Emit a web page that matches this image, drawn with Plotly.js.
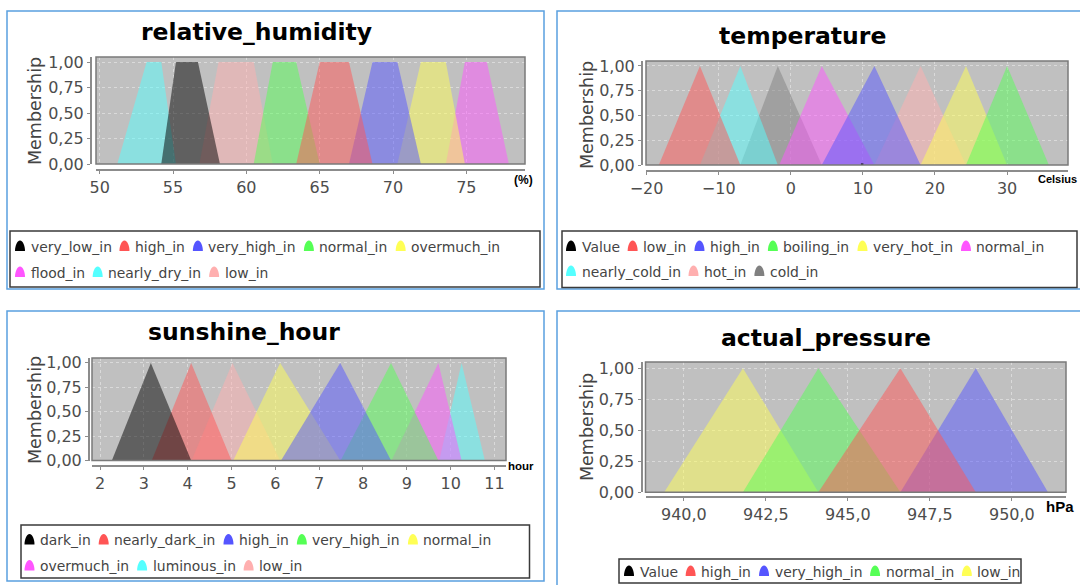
<!DOCTYPE html>
<html><head><meta charset="utf-8">
<script src="https://cdn.plot.ly/plotly-3.0.1.min.js"></script>
<style>html,body{margin:0;padding:0;background:#fff}#chart{width:1080px;height:585px}</style>
</head><body><div id="chart"></div>
<script>
// ---------------- data ----------------
// relative_humidity (trapezoids: start, top-left, top-right, end)
const humNames  = ['very_low_in','high_in','very_high_in','normal_in','overmuch_in','flood_in','nearly_dry_in','low_in'];
const humColors = ['#000000','#FF5555','#5555FF','#55FF55','#FFFF55','#FF55FF','#55FFFF','#FFAFAF'];
const humStart  = [54.2, 63.4, 67.0, 60.5, 70.3, 73.6, 51.2, 56.8];
const humTopL   = [55.2, 65.0, 68.6, 61.8, 71.9, 74.9, 53.2, 58.1];
const humTopR   = [56.7, 67.0, 70.3, 63.4, 73.6, 76.4, 54.2, 60.5];
const humEnd    = [58.2, 68.6, 71.9, 65.0, 74.9, 77.9, 55.2, 61.8];

// temperature (triangles: start, peak, end); index 0 = Value
const tempNames  = ['Value','low_in','high_in','boiling_in','very_hot_in','normal_in','nearly_cold_in','hot_in','cold_in'];
const tempColors = ['#000000','#FF5555','#5555FF','#55FF55','#FFFF55','#FF55FF','#55FFFF','#FFAFAF','#808080'];
const tempStart  = [null, -18.3,  4.3, 24.3, 18.0, -1.6, -12.6, 11.6, -7.0];
const tempPeak   = [null, -12.6, 11.6, 30.0, 24.3,  4.3,  -7.0, 18.0, -1.8];
const tempEnd    = [null,  -7.0, 18.0, 35.8, 30.0, 11.6,  -1.8, 24.3,  4.3];
const tempValue  = 9.9;

// sunshine_hour (triangles)
const sunNames  = ['dark_in','nearly_dark_in','high_in','very_high_in','normal_in','overmuch_in','luminous_in','low_in'];
const sunColors = ['#000000','#FF5555','#5555FF','#55FF55','#FFFF55','#FF55FF','#55FFFF','#FFAFAF'];
const sunStart  = [2.27, 3.18, 6.13, 7.49, 5.04,  8.65,  9.74, 4.09];
const sunPeak   = [3.16, 4.08, 7.48, 8.64, 6.11,  9.72, 10.25, 5.02];
const sunEnd    = [4.08, 5.00, 8.64, 9.72, 7.48, 10.25, 10.78, 6.11];

// actual_pressure (triangles); index 0 = Value
const presNames  = ['Value','high_in','very_high_in','normal_in','low_in'];
const presColors = ['#000000','#FF5555','#5555FF','#55FF55','#FFFF55'];
const presStart  = [null, 944.1, 946.6, 941.8, 939.4];
const presPeak   = [null, 946.6, 948.9, 944.1, 941.8];
const presEnd    = [null, 948.9, 951.1, 946.6, 944.1];

const membershipTicks = [0, 0.25, 0.5, 0.75, 1];

// ---------------- helpers ----------------
const W = 1080, H = 585;
const X = px => px / W;
const Y = py => 1 - py / H;
function rgba(hex, a) {
  const n = parseInt(hex.slice(1), 16);
  return `rgba(${(n>>16)&255},${(n>>8)&255},${n&255},${a})`;
}
const TXT = '"DejaVu Sans", Verdana, sans-serif';
const BOLD = '"Liberation Sans", Arial, sans-serif';
const traces = [], shapes = [], annotations = [];

function fillTrace(xs, ys, color, ax) {
  return {type:'scatter', mode:'lines', x:xs, y:ys, fill:'toself',
    fillcolor: rgba(color, 0.5), line:{width:0, color: rgba(color,0.5)},
    hoverinfo:'skip', showlegend:false,
    xaxis: ax === 1 ? 'x' : 'x'+ax, yaxis: ax === 1 ? 'y' : 'y'+ax};
}

// first series is drawn on top -> add in reverse order
for (let i = humNames.length - 1; i >= 0; i--)
  traces.push(fillTrace([humStart[i], humTopL[i], humTopR[i], humEnd[i]], [0,1,1,0], humColors[i], 1));
for (let i = tempNames.length - 1; i >= 1; i--)
  traces.push(fillTrace([tempStart[i], tempPeak[i], tempEnd[i]], [0,1,0], tempColors[i], 2));
traces.push({type:'scatter', mode:'lines', x:[tempValue, tempValue], y:[0, 0.015],
  line:{color:'#000', width:2.5}, hoverinfo:'skip', showlegend:false, xaxis:'x2', yaxis:'y2'});
for (let i = sunNames.length - 1; i >= 0; i--)
  traces.push(fillTrace([sunStart[i], sunPeak[i], sunEnd[i]], [0,1,0], sunColors[i], 3));
for (let i = presNames.length - 1; i >= 1; i--)
  traces.push(fillTrace([presStart[i], presPeak[i], presEnd[i]], [0,1,0], presColors[i], 4));

// ---------------- layout ----------------
const layout = {
  width: W, height: H, margin:{l:0,r:0,t:0,b:0},
  paper_bgcolor:'#ffffff', plot_bgcolor:'#c0c0c0',
  showlegend:false, separators:',.',
  font:{family:TXT, color:'#444'},
  shapes, annotations
};

const plots = [
  {l:96,  r:525,  t:57,  b:164,   xr:[49.75, 79.0],  xline:170, yline:91,  dtick:5,   tick0:50,  fmt:''},
  {l:646, r:1068, t:61,  b:165,   xr:[-20.08, 38.45], xline:171, yline:642, dtick:10,  tick0:0,   fmt:''},
  {l:92,  r:506,  t:358, b:460.5, xr:[1.817, 11.263], xline:465.5, yline:89,  dtick:1,   tick0:2,   fmt:''},
  {l:645.5, r:1066, t:362, b:492.3, xr:[938.83, 951.65], xline:497, yline:641.5, dtick:2.5, tick0:940, fmt:'.1f'}
];
plots.forEach((p, k) => {
  const s = k === 0 ? '' : String(k+1);
  const common = {
    showline:true, linecolor:'#8c8c8c', linewidth:2,
    ticks:'outside', ticklen:3, tickcolor:'#8c8c8c', tickwidth:1,
    showgrid:true, gridcolor:'rgba(255,255,255,0.42)', griddash:'dot', gridwidth:1,
    zeroline:false, fixedrange:true,
    tickfont:{family:TXT, size:16, color:'#4d4d4d'}
  };
  layout['xaxis'+s] = Object.assign({}, common, {
    domain:[X(p.l), X(p.r)], range:p.xr, anchor:'free', position:Y(p.xline),
    tickmode:'linear', dtick:p.dtick, tick0:p.tick0, tickformat:p.fmt
  });
  layout['yaxis'+s] = Object.assign({}, common, {
    domain:[Y(p.b), Y(p.t)], range:[0, 1.05], anchor:'free', position:X(p.yline),
    tickmode:'array', tickvals:membershipTicks, tickformat:'.2f'
  });
  shapes.push({type:'rect', xref:'x'+s+' domain', yref:'y'+s+' domain', x0:0, x1:1, y0:0, y1:1,
    line:{color:'#7a7a7a', width:1.5}, fillcolor:'rgba(0,0,0,0)', layer:'above'});
});

// panel borders
[[7,11,544,289],[557,11,1083,289],[7,311,544,581],[557,311,1083,592]].forEach(b => {
  shapes.push({type:'rect', xref:'paper', yref:'paper', x0:X(b[0]), x1:X(b[2]), y0:Y(b[3]), y1:Y(b[1]),
    line:{color:'#5aa0e0', width:1.5}, fillcolor:'rgba(0,0,0,0)', layer:'below'});
});

// titles
[['relative_humidity',256,32],['temperature',802,36],['sunshine_hour',244,332],['actual_pressure',826,338]].forEach(t => {
  annotations.push({xref:'paper', yref:'paper', x:X(t[1]), y:Y(t[2]), xanchor:'center', yanchor:'middle',
    text:t[0], showarrow:false, font:{family:TXT, size:23.5, weight:'bold', color:'#000'}});
});
// y axis titles
[[35,111],[587,115],[35,410],[587,427]].forEach(m => {
  annotations.push({xref:'paper', yref:'paper', x:X(m[0]), y:Y(m[1]), xanchor:'center', yanchor:'middle',
    text:'Membership', textangle:-90, showarrow:false, font:{family:TXT, size:17.5, color:'#444'}});
});
// unit labels
[['(%)',523,180,12],['Celsius',1057,179,11],['hour',521,466,11.5],['hPa',1060,506,15]].forEach(u => {
  annotations.push({xref:'paper', yref:'paper', x:X(u[1]), y:Y(u[2]), xanchor:'center', yanchor:'middle',
    text:u[0], showarrow:false, font:{family:BOLD, size:u[3], weight:'bold', color:'#000'}});
});

// legends
const LEG_SIZE = 13.9;
const ctx = document.createElement('canvas').getContext('2d');
function tw(t) { ctx.font = LEG_SIZE + 'px "DejaVu Sans"'; return ctx.measureText(t).width; }
function bell(cx, cy, color) {
  const b = cy + 4.5, t = cy - 6, hw = 5;
  const p = `M ${X(cx-hw)} ${Y(b)} C ${X(cx-hw)} ${Y(b-5)} ${X(cx-3)} ${Y(t)} ${X(cx)} ${Y(t)} ` +
            `C ${X(cx+3)} ${Y(t)} ${X(cx+hw)} ${Y(b-5)} ${X(cx+hw)} ${Y(b)} Z`;
  return {type:'path', xref:'paper', yref:'paper', path:p, fillcolor:color, line:{width:0}};
}
function addLegend(names, colors, box, rows, firstX, rowYs) {
  shapes.push({type:'rect', xref:'paper', yref:'paper', x0:X(box[0]), x1:X(box[2]), y0:Y(box[3]), y1:Y(box[1]),
    line:{color:'#3a3a3a', width:1.5}, fillcolor:'rgba(0,0,0,0)'});
  rows.forEach((row, r) => {
    let cx = firstX; const cy = rowYs[r];
    row.forEach(idx => {
      shapes.push(bell(cx, cy, colors[idx]));
      const tx = cx + 9.5;
      annotations.push({xref:'paper', yref:'paper', x:X(tx - 1), y:Y(cy), xanchor:'left', yanchor:'middle',
        text:names[idx], showarrow:false, font:{family:TXT, size:LEG_SIZE, color:'#444'}});
      cx = tx + tw(names[idx]) + 14;
    });
  });
}
addLegend(humNames, humColors, [10,231,540,287], [[0,1,2,3,4],[5,6,7]], 20, [246.5, 272.5]);
addLegend(tempNames, tempColors, [562,231,1077,287.5], [[0,1,2,3,4,5],[6,7,8]], 571, [246.5, 271.5]);
addLegend(sunNames, sunColors, [21,525,529.5,578], [[0,1,2,3,4],[5,6,7]], 29.5, [540, 566]);
addLegend(presNames, presColors, [619,559,1021,583], [[0,1,2,3,4]], 629, [571.5]);

Plotly.newPlot('chart', traces, layout, {displayModeBar:false, staticPlot:true});
</script>
</body></html>
